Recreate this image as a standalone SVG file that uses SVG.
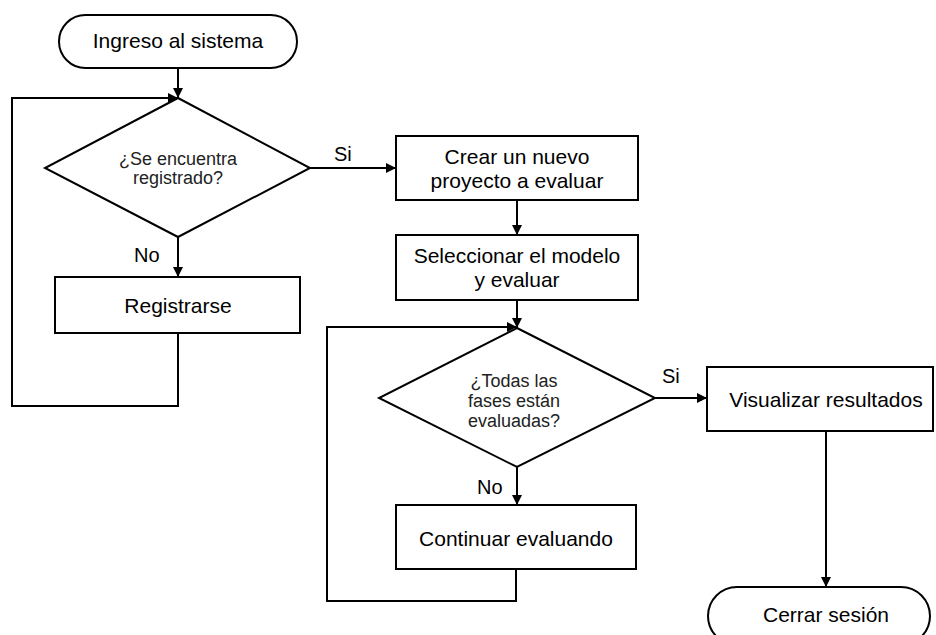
<svg xmlns="http://www.w3.org/2000/svg" width="936" height="635" viewBox="0 0 936 635">
<style>
.s{fill:#fff;stroke:#000;stroke-width:2}
.c{fill:none;stroke:#000;stroke-width:2}
text{font-family:"Liberation Sans",Arial,sans-serif;fill:#000;text-anchor:middle}
.t{font-size:21px}
.d{font-size:18px;fill:#222}
.l{font-size:20px;text-anchor:start}
</style>
<defs>
<marker id="a" markerWidth="10" markerHeight="10" refX="10" refY="5" orient="auto" markerUnits="userSpaceOnUse">
<path d="M0,0 L10,5 L0,10 Z" fill="#000"/>
</marker>
</defs>
<rect width="936" height="635" fill="#fff"/>
<g id="connectors">
<path class="c" d="M178,68 V98" marker-end="url(#a)"/>
<path class="c" d="M178,333 V406 H12 V98 H178" marker-end="url(#a)"/>
<path class="c" d="M178,237 V277" marker-end="url(#a)"/>
<path class="c" d="M310,168 H396" marker-end="url(#a)"/>
<path class="c" d="M517,200 V235" marker-end="url(#a)"/>
<path class="c" d="M517,300 V328" marker-end="url(#a)"/>
<path class="c" d="M516,569 V601 H327 V327 H517" marker-end="url(#a)"/>
<path class="c" d="M517,467 V505" marker-end="url(#a)"/>
<path class="c" d="M655,398 H707" marker-end="url(#a)"/>
<path class="c" d="M826,431 V587" marker-end="url(#a)"/>
<text class="l" x="334" y="161">Si</text>
<text class="l" x="134" y="262">No</text>
<text class="l" x="477" y="494">No</text>
<text class="l" x="662" y="383">Si</text>
</g>
<g id="inicio">
<rect class="s" x="59" y="15" width="238" height="53" rx="26.5"/>
<text class="t" x="178" y="48">Ingreso al sistema</text>
</g>
<g id="registrado">
<path class="s" d="M178,98 L310,168 L178,237 L45,168 Z"/>
<text class="d" x="178" y="165">¿Se encuentra</text>
<text class="d" x="178" y="184">registrado?</text>
</g>
<g id="registrarse">
<rect class="s" x="55" y="277" width="245" height="56"/>
<text class="t" x="178" y="313">Registrarse</text>
</g>
<g id="crear">
<rect class="s" x="396" y="136" width="242" height="64"/>
<text class="t" x="517" y="164">Crear un nuevo</text>
<text class="t" x="517" y="188">proyecto a evaluar</text>
</g>
<g id="seleccionar">
<rect class="s" x="396" y="235" width="242" height="65"/>
<text class="t" x="517" y="263">Seleccionar el modelo</text>
<text class="t" x="517" y="287">y evaluar</text>
</g>
<g id="fases">
<path class="s" d="M517,328 L655,398 L517,467 L379,398 Z"/>
<text class="d" x="514" y="387">¿Todas las</text>
<text class="d" x="514" y="407">fases están</text>
<text class="d" x="514" y="427">evaluadas?</text>
</g>
<g id="continuar">
<rect class="s" x="396" y="505" width="240" height="64"/>
<text class="t" x="516" y="546">Continuar evaluando</text>
</g>
<g id="visualizar">
<rect class="s" x="707" y="367" width="226" height="64"/>
<text class="t" x="826" y="407">Visualizar resultados</text>
</g>
<g id="cerrar">
<rect class="s" x="708" y="587" width="222" height="58" rx="29"/>
<text class="t" x="826" y="622">Cerrar sesión</text>
</g>
</svg>
